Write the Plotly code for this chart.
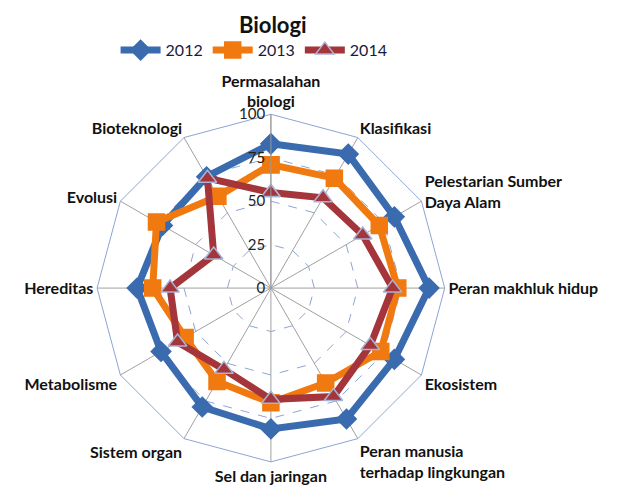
import plotly.graph_objects as go

categories = [
    "Permasalahan<br>biologi", "Klasifikasi", "Pelestarian Sumber<br>Daya Alam",
    "Peran makhluk hidup", "Ekosistem", "Peran manusia<br>terhadap lingkungan",
    "Sel dan jaringan", "Sistem organ", "Metabolisme", "Hereditas",
    "Evolusi", "Bioteknologi",
]
y2012 = [83, 89, 82, 91, 82, 87, 81, 79, 73, 77, 72, 74]
y2013 = [71, 73, 72, 73, 73, 63, 66, 62, 57, 68, 76, 61]
y2014 = [55, 60, 61, 70, 66, 72, 64, 54, 62, 58, 38, 73]
radial_ticks = [0, 25, 50, 75, 100]

series = [
    ("2012", y2012, "#3A6BAF", "diamond", 15),
    ("2013", y2013, "#F07A10", "square", 16),
    ("2014", y2014, "#A3353B", "triangle-up", 16),
]

fig = go.Figure()
for name, vals, color, symbol, size in series:
    fig.add_trace(go.Scatterpolar(
        r=vals + vals[:1],
        theta=categories + categories[:1],
        mode="lines+markers",
        name=name,
        line=dict(color=color, width=7),
        marker=dict(symbol=symbol, size=size, color=color,
                    line=dict(color="#A9B3D6" if symbol == "triangle-up" else color, width=1.5)),
    ))

fig.update_layout(
    width=623, height=485,
    margin=dict(l=0, r=0, t=0, b=0),
    paper_bgcolor="white",
    font=dict(family="Lato, Open Sans, sans-serif", color="#111111", size=15),
    title=dict(text="<b>Biologi</b>", x=0.425, xanchor="center", y=0.964, yanchor="middle",
               font=dict(size=22, color="#111111")),
    legend=dict(orientation="h", x=0.395, xanchor="center", y=0.948, yanchor="top",
                font=dict(size=16, color="#1a1a3a"), itemwidth=40, tracegroupgap=0),
    polar=dict(
        domain=dict(x=[0.143, 0.701], y=[0.064, 0.781]),
        bgcolor="rgba(0,0,0,0)",
        gridshape="linear",
        radialaxis=dict(
            range=[0, 100], tickvals=radial_ticks, angle=90, tickangle=90,
            side="counterclockwise",
            showline=True, linecolor="#999999", linewidth=1,
            gridcolor="#8EA4D6", griddash="dash", gridwidth=1,
            tickfont=dict(size=15, color="#222222"), ticks="",
        ),
        angularaxis=dict(
            direction="clockwise", rotation=90,
            gridcolor="#A0A0A0", gridwidth=1,
            linecolor="#8EA4D6", linewidth=1,
            ticks="", tickfont=dict(size=16, color="#111111", weight="bold"),
        ),
    ),
)

fig.write_html("out.html")
